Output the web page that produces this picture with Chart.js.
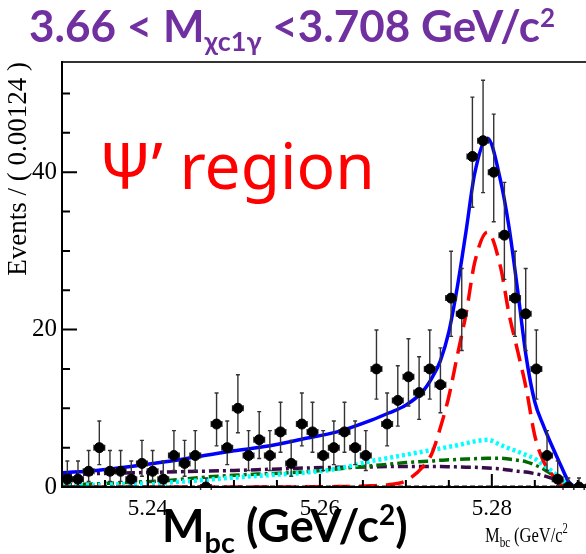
<!DOCTYPE html>
<html>
<head>
<meta charset="utf-8">
<title>Mbc - psi' region</title>
<script src="https://cdn.jsdelivr.net/npm/chart.js"></script>
<style>
  body { margin: 0; background: #fff; }
  #wrap { position: relative; width: 586px; height: 554px; overflow: hidden; }
  #grafico { position: absolute; left: 0; top: 0; }
  .nota { position: absolute; white-space: nowrap; font-family: Lato, 'Noto Sans', sans-serif; }
  #titulo { left: 29px; top: 3px; font-size: 44px; line-height: 44px; font-weight: bold; color: #7030A0; }
  #titulo sub { font-size: 27px; vertical-align: -9px; line-height: 0; }
  #titulo sup { font-size: 26px; vertical-align: 15px; line-height: 0; }
  #region { left: 99px; top: 133px; font-family: 'Noto Sans', sans-serif; font-size: 64px; line-height: 64px; color: #ff0000; }
  #ejeX { left: 162px; top: 503px; font-size: 45px; line-height: 45px; font-weight: bold; color: #000; }
  #ejeX sub { font-size: 29px; vertical-align: -11px; line-height: 0; }
  #ejeX sup { font-size: 28px; vertical-align: 17px; line-height: 0; }
</style>
</head>
<body>
<div id="wrap">
  <canvas id="grafico" width="640" height="554"></canvas>
  <div class="nota" id="titulo">3.66 &lt; M<sub>χc1γ</sub> &lt;3.708 GeV/c<sup>2</sup></div>
  <div class="nota" id="region">Ψ’ region</div>
  <div class="nota" id="ejeX">M<sub>bc</sub> (GeV/c<sup>2</sup>)</div>
</div>

<script>
  // bin centres (GeV), bin width 0.00124
  const centros = [5.23062, 5.23186, 5.23310, 5.23434, 5.23558, 5.23682, 5.23806, 5.23930, 5.24054, 5.24178,
                   5.24302, 5.24426, 5.24550, 5.24674, 5.24798, 5.24922, 5.25046, 5.25170, 5.25294, 5.25418,
                   5.25542, 5.25666, 5.25790, 5.25914, 5.26038, 5.26162, 5.26286, 5.26410, 5.26534, 5.26658,
                   5.26782, 5.26906, 5.27030, 5.27154, 5.27278, 5.27402, 5.27526, 5.27650, 5.27774, 5.27898,
                   5.28022, 5.28146, 5.28270, 5.28394, 5.28518, 5.28642, 5.28766, 5.28890, 5.29014, 5.29138];
  const mediaAnchura = 0.00062;

  const eventos = [1, 1, 2, 5, 2, 2, 1, 3, 2, 1,
                   4, 3, 4, 0, 8, 5, 10, 4, 6, 4,
                   7, 3, 8, 7, 4, 5, 7, 5, 4, 15,
                   8, 11, 14, 12, 15, 13, 24, 22, 42, 44,
                   40, 32, 24, 22, 15, 4, 1, 0, 0, 0];
  const errBajo = [0.83, 0.83, 1.29, 2.16, 1.29, 1.29, 0.83, 1.63, 1.29, 0.83,
                   1.91, 1.63, 1.91, 0, 2.77, 2.16, 3.11, 1.91, 2.38, 1.91,
                   2.58, 1.63, 2.77, 2.58, 1.91, 2.16, 2.58, 2.16, 1.91, 3.83,
                   2.77, 3.26, 3.70, 3.41, 3.83, 3.56, 4.86, 4.66, 6.45, 6.60,
                   6.29, 5.62, 4.86, 4.66, 3.83, 1.91, 0.83, 0, 0, 0];
  const errAlto = [2.30, 2.30, 2.64, 3.38, 2.64, 2.64, 2.30, 2.92, 2.64, 2.30,
                   3.16, 2.92, 3.16, 1.15, 3.94, 3.38, 4.26, 3.16, 3.58, 3.16,
                   3.77, 2.92, 3.94, 3.77, 3.16, 3.38, 3.77, 3.38, 3.16, 4.95,
                   3.94, 4.41, 4.83, 4.55, 4.95, 4.68, 5.95, 5.76, 7.54, 7.69,
                   7.38, 6.71, 5.95, 5.76, 4.95, 3.16, 2.30, 1.15, 1.15, 1.15];

  // fit curves
  const curvaX = [5.230, 5.234, 5.238, 5.242, 5.246, 5.250, 5.254, 5.258, 5.262, 5.266,
                  5.268, 5.270, 5.272, 5.273, 5.274, 5.275, 5.276, 5.277, 5.278, 5.2795,
                  5.281, 5.282, 5.283, 5.284, 5.285, 5.286, 5.287, 5.288, 5.289, 5.290, 5.292];
  const total   = [1.8, 2.1, 2.6, 3.2, 3.9, 4.6, 5.2, 6.1, 7.0, 8.5,
                   9.4, 10.4, 12.2, 13.8, 16.0, 19.7, 25.5, 32.5, 39.8, 44.3,
                   39.0, 33.0, 25.0, 16.5, 10.8, 7.8, 5.2, 2.8, 0.6, 0.05, 0.02];
  const senal   = [0, 0, 0, 0, 0, 0, 0, 0.02, 0.05, 0.15,
                   0.3, 0.8, 2.6, 4.2, 7.5, 11.5, 16.8, 22, 28.5, 32.4,
                   28, 22, 17.3, 12.5, 6.5, 3.3, 1.6, 0.3, 0.05, 0, 0];
  const fondoCian = [0.2, 0.25, 0.4, 0.55, 0.85, 1.2, 1.5, 1.8, 2.3, 3.3,
                     3.7, 4.1, 4.5, 4.7, 4.9, 5.1, 5.3, 5.55, 5.8, 6.0,
                     5.35, 4.9, 4.5, 4.05, 3.6, 2.8, 2.0, 1.1, 0.4, 0, 0];
  const fondoVerde = [0.3, 0.4, 0.6, 0.8, 1.2, 1.5, 1.7, 1.9, 2.3, 2.7,
                      2.9, 3.1, 3.25, 3.3, 3.4, 3.45, 3.5, 3.55, 3.6, 3.65,
                      3.65, 3.55, 3.4, 3.2, 2.8, 2.3, 1.6, 0.9, 0.3, 0, 0];
  const fondoMorado = [1.5, 1.7, 1.8, 1.9, 2.0, 2.1, 2.25, 2.4, 2.5, 2.55,
                       2.6, 2.6, 2.6, 2.6, 2.6, 2.58, 2.55, 2.52, 2.5, 2.4,
                       2.3, 2.15, 2.0, 1.9, 1.7, 1.45, 1.1, 0.7, 0.25, 0, 0];
  const lineaCeroX = [5.230, 5.292];
  const lineaCero  = [0, 0];

  // axes
  const xMin = 5.23, xMax = 5.292, yMin = 0, yMax = 54;
  const xEtiquetas = [5.24, 5.26, 5.28];
  const xMenores = [5.235, 5.245, 5.25, 5.255, 5.265, 5.27, 5.275, 5.285, 5.29];
  const yEtiquetas = [0, 20, 40];
  const yMenores = [5, 10, 15, 25, 30, 35, 45, 50];

  const pares = (xs, ys) => xs.map((x, i) => ({ x: x, y: ys[i] }));

  const marcoRoot = {
    id: 'marcoRoot',
    beforeDatasetDraw(chart, args) {
      if (args.index !== 0) return;
      const ctx = chart.ctx, sx = chart.scales.x, sy = chart.scales.y;
      ctx.save();
      ctx.strokeStyle = '#333';
      ctx.lineWidth = 1.4;
      centros.forEach((c, i) => {
        const px = sx.getPixelForValue(c);
        const py = sy.getPixelForValue(eventos[i]);
        const xa = sx.getPixelForValue(c - mediaAnchura);
        const xb = sx.getPixelForValue(c + mediaAnchura);
        const ya = sy.getPixelForValue(eventos[i] + errAlto[i]);
        const yb = sy.getPixelForValue(eventos[i] - errBajo[i]);
        ctx.beginPath();
        ctx.moveTo(xa, py); ctx.lineTo(xb, py);
        ctx.moveTo(xa, py - 3); ctx.lineTo(xa, py + 3);
        ctx.moveTo(xb, py - 3); ctx.lineTo(xb, py + 3);
        if (ya !== yb) {
          ctx.moveTo(px, ya); ctx.lineTo(px, yb);
          ctx.moveTo(px - 2, ya); ctx.lineTo(px + 2, ya);
          ctx.moveTo(px - 2, yb); ctx.lineTo(px + 2, yb);
        }
        ctx.stroke();
      });
      ctx.restore();
    },
    afterDraw(chart) {
      const ctx = chart.ctx, a = chart.chartArea, sx = chart.scales.x, sy = chart.scales.y;
      ctx.save();
      ctx.strokeStyle = '#333';
      ctx.lineWidth = 2;
      ctx.beginPath(); ctx.moveTo(a.left, a.top); ctx.lineTo(a.right, a.top); ctx.stroke();
      ctx.strokeStyle = '#000';
      ctx.beginPath();
      ctx.moveTo(a.left, a.top - 1); ctx.lineTo(a.left, a.bottom);
      ctx.lineTo(a.right, a.bottom);
      yEtiquetas.forEach(v => { const p = sy.getPixelForValue(v); ctx.moveTo(a.left, p); ctx.lineTo(a.left + 15, p); });
      yMenores.forEach(v => { const p = sy.getPixelForValue(v); ctx.moveTo(a.left, p); ctx.lineTo(a.left + 8, p); });
      xEtiquetas.forEach(v => { const p = sx.getPixelForValue(v); ctx.moveTo(p, a.bottom); ctx.lineTo(p, a.bottom - 13); });
      xMenores.forEach(v => { const p = sx.getPixelForValue(v); ctx.moveTo(p, a.bottom); ctx.lineTo(p, a.bottom - 7); });
      ctx.stroke();

      // ROOT x title, squeezed like the original picture
      ctx.fillStyle = '#000';
      ctx.translate(485, 542);
      ctx.scale(0.75, 1);
      ctx.textBaseline = 'alphabetic';
      let x = 0;
      ctx.font = '22px "Liberation Serif", serif';
      ctx.fillText('M', x, 0); x += ctx.measureText('M').width;
      ctx.font = '15px "Liberation Serif", serif';
      ctx.fillText('bc', x, 5); x += ctx.measureText('bc').width + 5;
      ctx.font = '22px "Liberation Serif", serif';
      ctx.fillText('(GeV/c', x, 0); x += ctx.measureText('(GeV/c').width;
      ctx.font = '14px "Liberation Serif", serif';
      ctx.fillText('2', x, -9);
      ctx.restore();
    }
  };

  const ctx = document.getElementById('grafico').getContext('2d');
  new Chart(ctx, {
    type: 'scatter',
    data: {
      datasets: [
        { label: 'datos', data: pares(centros, eventos), backgroundColor: '#000', borderColor: '#000',
          pointRadius: 5, pointHoverRadius: 5, showLine: false },
        { label: 'total', data: pares(curvaX, total), showLine: true, borderColor: '#0000ff', borderWidth: 3.5,
          pointRadius: 0, cubicInterpolationMode: 'monotone' },
        { label: 'cero', data: pares(lineaCeroX, lineaCero), showLine: true, borderColor: '#111', borderWidth: 3,
          borderDash: [5, 3], pointRadius: 0 },
        { label: 'señal', data: pares(curvaX, senal), showLine: true, borderColor: '#ff0000', borderWidth: 3.5,
          borderDash: [18, 9], pointRadius: 0, cubicInterpolationMode: 'monotone' },
        { label: 'fondo cian', data: pares(curvaX, fondoCian), showLine: true, borderColor: '#00ffff', borderWidth: 4.5,
          borderDash: [3, 3], pointRadius: 0, cubicInterpolationMode: 'monotone' },
        { label: 'fondo verde', data: pares(curvaX, fondoVerde), showLine: true, borderColor: '#006a00', borderWidth: 3.5,
          borderDash: [10, 4, 3, 4], pointRadius: 0, cubicInterpolationMode: 'monotone' },
        { label: 'fondo morado', data: pares(curvaX, fondoMorado), showLine: true, borderColor: '#3a0a48', borderWidth: 3.5,
          borderDash: [10, 4, 3, 4], pointRadius: 0, cubicInterpolationMode: 'monotone' }
      ]
    },
    options: {
      responsive: false,
      animation: false,
      events: [],
      layout: { padding: { left: 0, top: 62, right: 45, bottom: 0 } },
      plugins: { legend: { display: false }, tooltip: { enabled: false } },
      scales: {
        x: {
          type: 'linear', min: xMin, max: xMax,
          grid: { display: false, drawTicks: false }, border: { display: false },
          afterBuildTicks: s => { s.ticks = xEtiquetas.map(v => ({ value: v })); },
          afterFit: s => { s.height = 67; },
          ticks: { padding: 8, color: '#000', maxRotation: 0, autoSkip: false,
                   font: { family: '"Liberation Serif", serif', size: 23 },
                   callback: v => v.toFixed(2) }
        },
        y: {
          type: 'linear', min: yMin, max: yMax,
          grid: { display: false, drawTicks: false }, border: { display: false },
          afterBuildTicks: s => { s.ticks = yEtiquetas.map(v => ({ value: v })); },
          afterFit: s => { s.width = 62; },
          ticks: { padding: 5, color: '#000', font: { family: '"Liberation Serif", serif', size: 25 } },
          title: { display: true, text: 'Events / ( 0.00124 )', align: 'end', color: '#000',
                   padding: { top: 3, bottom: 0 },
                   font: { family: '"Liberation Serif", serif', size: 27 } }
        }
      }
    },
    plugins: [marcoRoot]
  });
</script>
</body>
</html>
